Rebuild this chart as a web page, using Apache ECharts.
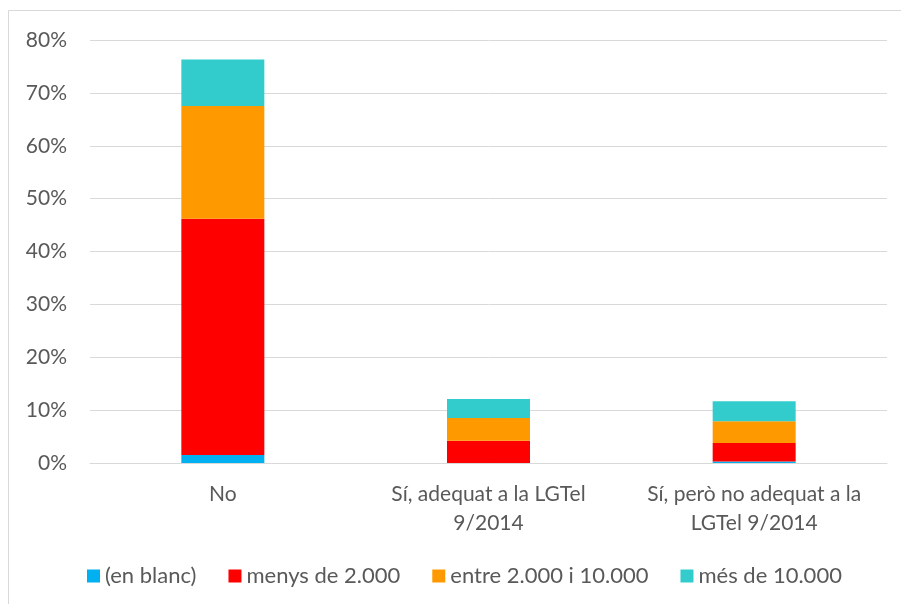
<!DOCTYPE html>
<html>
<head>
<meta charset="utf-8">
<script src="https://cdn.jsdelivr.net/npm/echarts@6/dist/echarts.min.js"></script>
<style>
  html, body { margin: 0; padding: 0; background: #fff; }
  #chart { width: 901px; height: 604px; }
</style>
</head>
<body>
<div id="chart"></div>
<script>
var categories = ['No', 'Sí, adequat a la LGTel\n9/2014', 'Sí, però no adequat a la\nLGTel 9/2014'];
var seriesNames = ['(en blanc)', 'menys de 2.000', 'entre 2.000 i 10.000', 'més de 10.000'];
var enBlanc = [1.5, 0, 0.3];
var menys2000 = [44.7, 4.2, 3.5];
var entre2000i10000 = [21.3, 4.3, 4.1];
var mes10000 = [8.8, 3.6, 3.8];
var colors = ['#00B0F0', '#FF0000', '#FF9900', '#33CCCC'];

var font = 'Lato, "Open Sans", sans-serif';
var chart = echarts.init(document.getElementById('chart'));

var allData = [enBlanc, menys2000, entre2000i10000, mes10000];
var series = [];
for (var i = 0; i < seriesNames.length; i++) {
	series.push({
		name: seriesNames[i],
		type: 'bar',
		stack: 'total',
		barWidth: 83,
		itemStyle: { color: colors[i] },
		data: allData[i]
	});
}

var option = {
	animation: false,
	color: colors,
	textStyle: { fontFamily: font },
	graphic: [{
		type: 'rect',
		shape: { x: 8.5, y: 10.5, width: 900, height: 600 },
		style: { fill: 'none', stroke: '#d9d9d9', lineWidth: 1 },
		silent: true
	}],
	grid: { left: 90, right: 14, top: 40, bottom: 141 },
	legend: {
		bottom: 12,
		left: 82,
		itemWidth: 13,
		itemHeight: 13,
		itemGap: 32,
		icon: 'rect',
		textStyle: { fontSize: 22, color: '#595959', fontFamily: font }
	},
	xAxis: {
		type: 'category',
		data: categories,
		axisLine: { lineStyle: { color: '#d9d9d9' } },
		axisTick: { show: false },
		axisLabel: { interval: 0, fontSize: 21, color: '#595959', lineHeight: 29, margin: 17, fontFamily: font }
	},
	yAxis: {
		type: 'value',
		min: 0,
		max: 80,
		interval: 10,
		axisLabel: { formatter: '{value}%', fontSize: 21, color: '#595959', margin: 23, fontFamily: font },
		splitLine: { lineStyle: { color: '#d9d9d9' } },
		axisLine: { show: false },
		axisTick: { show: false }
	},
	series: series
};

chart.setOption(option);
</script>
</body>
</html>
